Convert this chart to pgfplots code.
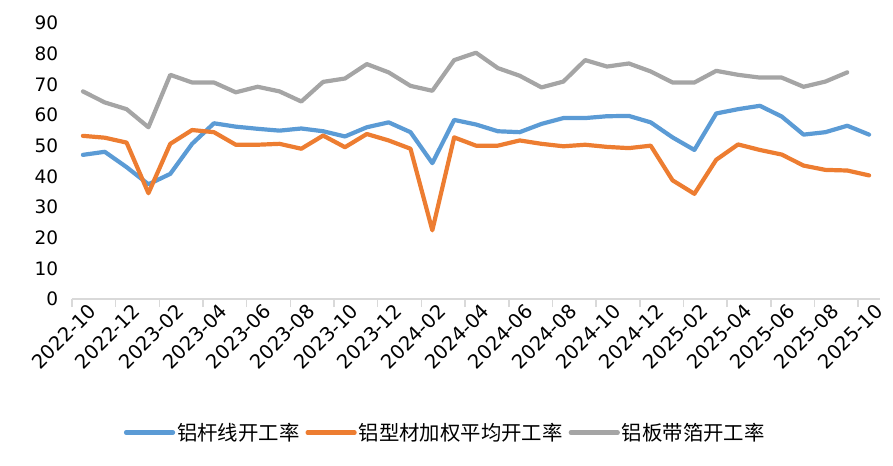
\documentclass[border=0pt]{standalone}
\usepackage{pgfplots}
\pgfplotsset{compat=1.18}
\usepackage{fontspec}
\setmainfont{Noto Sans CJK SC}
\newfontfamily\tickfont{DejaVu Sans}
\definecolor{cblue}{HTML}{5B9BD5}
\definecolor{corange}{HTML}{ED7D31}
\definecolor{cgray}{HTML}{A5A5A5}
\definecolor{caxis}{HTML}{D9D9D9}
\begin{document}
\begin{tikzpicture}
\begin{axis}[
  name=ax,
  scale only axis,
  width=808bp, height=276bp,
  xmin=-0.5, xmax=36.5,
  ymin=0, ymax=90,
  axis lines=left,
  axis line style={-},
  x axis line style={draw=caxis, line width=1.5bp},
  y axis line style={draw=none},
  xtick={0,2,...,36},
  xticklabels={2022-10,2022-12,2023-02,2023-04,2023-06,2023-08,2023-10,2023-12,2024-02,2024-04,2024-06,2024-08,2024-10,2024-12,2025-02,2025-04,2025-06,2025-08,2025-10},
  minor xtick={-0.5,1.5,...,35.5},
  x tick style={draw=caxis, line width=1.5bp},
  major x tick style={draw=none},
  minor tick length=8bp,
  tick align=outside,
  ytick={0,10,...,90},
  y tick style={draw=none},
  /pgf/number format/assume math mode=true,
  ticklabel style={font=\tickfont\fontsize{18.5bp}{22bp}\selectfont, text=black},
  xticklabel style={font=\tickfont\fontsize{19.5bp}{22bp}\selectfont, rotate=45, anchor=east, inner sep=2bp, yshift=-10bp, xshift=6bp},
  yticklabel style={anchor=east, xshift=-6bp},
  legend columns=3,
  legend style={at={(0.462,-0.484)}, anchor=center, draw=none, fill=none,
    font=\fontsize{20.4bp}{24bp}\selectfont,
    /tikz/every even column/.append style={column sep=4bp}},
  legend image code/.code={\draw[#1, line width=4.2bp, line cap=round] (0bp,0bp) -- (47bp,0bp);},
  every axis plot/.append style={line width=4.2bp, line join=round, line cap=round, mark=none},
]
\addplot[cblue] coordinates {
(0,47.0)(1,48.0)(2,43.0)(3,37.4)(4,40.8)(5,50.6)(6,57.3)(7,56.2)(8,55.5)(9,54.9)
(10,55.6)(11,54.7)(12,53.0)(13,56.0)(14,57.6)(15,54.4)(16,44.3)(17,58.4)(18,56.9)(19,54.7)
(20,54.4)(21,57.1)(22,59.0)(23,59.0)(24,59.6)(25,59.7)(26,57.6)(27,52.7)(28,48.6)(29,60.5)
(30,61.9)(31,63.0)(32,59.5)(33,53.6)(34,54.4)(35,56.5)(36,53.6)};
\addlegendentry{铝杆线开工率}
\addplot[corange] coordinates {
(0,53.2)(1,52.6)(2,51.0)(3,34.5)(4,50.6)(5,55.1)(6,54.4)(7,50.3)(8,50.3)(9,50.6)
(10,49.0)(11,53.3)(12,49.5)(13,53.8)(14,51.7)(15,49.0)(16,22.4)(17,52.7)(18,50.0)(19,50.0)
(20,51.7)(21,50.6)(22,49.8)(23,50.3)(24,49.6)(25,49.2)(26,50.0)(27,38.7)(28,34.3)(29,45.4)
(30,50.4)(31,48.6)(32,47.1)(33,43.5)(34,42.1)(35,41.9)(36,40.3)};
\addlegendentry{铝型材加权平均开工率}
\addplot[cgray] coordinates {
(0,67.7)(1,64.1)(2,61.9)(3,56.0)(4,73.1)(5,70.6)(6,70.6)(7,67.4)(8,69.2)(9,67.7)
(10,64.4)(11,70.8)(12,71.9)(13,76.6)(14,73.9)(15,69.5)(16,67.9)(17,77.9)(18,80.3)(19,75.3)
(20,72.8)(21,69.0)(22,70.9)(23,77.9)(24,75.8)(25,76.8)(26,74.2)(27,70.6)(28,70.6)(29,74.4)
(30,73.1)(31,72.2)(32,72.2)(33,69.2)(34,70.9)(35,73.9)};
\addlegendentry{铝板带箔开工率}
\end{axis}
\pgfresetboundingbox
\path ([shift={(-72bp,-167bp)}]ax.south west) rectangle ([shift={(821bp,299bp)}]ax.south west);
\end{tikzpicture}
\end{document}
